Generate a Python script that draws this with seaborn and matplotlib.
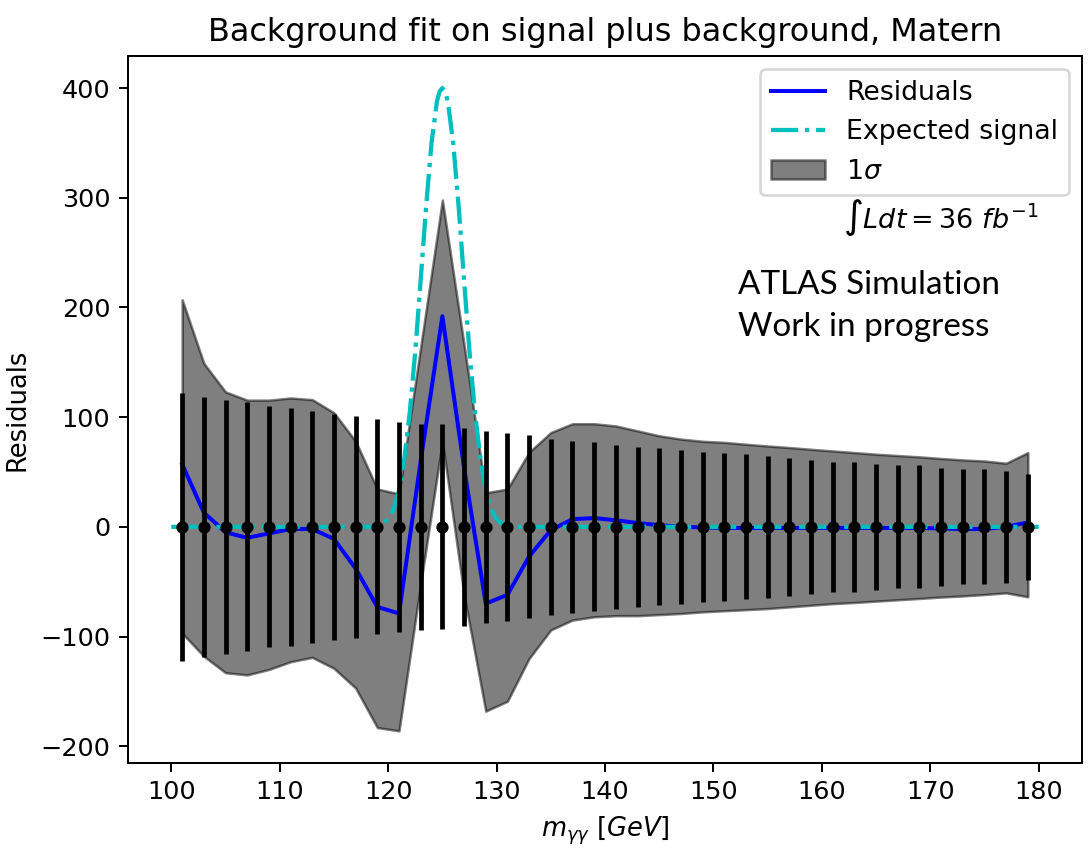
import numpy as np
import matplotlib
matplotlib.use("Agg")
import matplotlib.pyplot as plt
import seaborn as sns
from matplotlib.patches import Patch
from matplotlib.lines import Line2D

# Diphoton invariant-mass bin centres [GeV]
mass = np.arange(101, 181, 2)

# Fit residuals (data - background fit) per bin
residuals = [57, 13, -5, -10, -6, -2, -2, -11, -38, -73,
             -79, 60, 192, 54, -70, -62, -27, -3, 7, 8,
             6, 3.5, 1.5, 0, -0.5, -1, -1, -1, -1, -1,
             -1, -1, -1, -1, -1, -1.5, -2, -2, 0, 4]

# Statistical uncertainty on each bin (symmetric error bars around zero)
bin_error = [122, 118.5, 115.5, 113.5, 110, 108.5, 105.5, 103, 101.5, 98,
             96, 94, 93.5, 90.5, 87.5, 85.5, 83.5, 80, 78.5, 77,
             74.5, 73, 71.5, 70, 68.5, 67.5, 66, 64.5, 63, 61,
             59.5, 59, 57.5, 56, 56, 54, 52.5, 52.5, 51, 48.5]

# 1 sigma band of the background fit
band_upper = [207, 149, 123, 115.5, 115.5, 117.5, 116, 104, 78, 34.5,
              30, 164, 298, 166, 31, 34.5, 68, 86, 94, 94,
              92, 87.5, 83, 80, 78, 77, 75.3, 73.7, 72.3, 70.7,
              69.2, 67.7, 66.2, 65, 63.8, 62.3, 61, 60, 58, 67.7]
band_lower = [-97, -118, -133, -135, -130, -123, -119, -129, -147, -183,
              -186, -52, 78, -62, -168, -159, -120, -94, -85, -82,
              -81, -81, -80, -79, -77.5, -76.5, -75.5, -74.5, -73, -71.5,
              -70, -69, -67.7, -66.5, -65.3, -64, -63, -61.7, -60.2, -63.8]

# Expected Higgs signal shape
signal_mass = [100, 118, 118.5, 119, 119.5, 120, 120.5, 121, 121.5, 122, 122.5,
               123, 123.5, 124, 124.5, 124.75, 125, 125.25, 125.5, 126, 126.5,
               127, 127.5, 128, 128.5, 129, 129.5, 130, 130.5, 131, 131.5, 132, 180]
signal_value = [0, 0, 0.3, 1, 3, 7, 16, 33, 63, 105, 160,
                225, 292, 350, 388, 397, 400, 397, 388, 350, 292,
                225, 160, 105, 63, 33, 16, 7, 3, 1, 0.3, 0, 0]

fig, ax = plt.subplots(figsize=(1089 / 180, 857 / 180), dpi=180)
fig.subplots_adjust(left=0.1175, right=0.9936, top=0.9347, bottom=0.1097)

ax.fill_between(mass, band_lower, band_upper, color="k", alpha=0.5, zorder=1)
sns.lineplot(x=mass, y=residuals, color="blue", linewidth=1.6,
             estimator=None, ax=ax, zorder=2)
sns.lineplot(x=signal_mass, y=signal_value, color="c", linewidth=1.7,
             linestyle="-.", estimator=None, ax=ax, zorder=2.1)
ax.errorbar(mass, np.zeros(len(mass)), yerr=bin_error, fmt="ko",
            markersize=3.9, elinewidth=1.9, zorder=3)

ax.set_title("Background fit on signal plus background, Matern", fontsize=12.75)
ax.set_xlabel(r"$m_{\gamma\gamma}\ [GeV]$", fontsize=10.3)
ax.set_ylabel("Residuals", fontsize=10.3)
ax.set_xticks(np.arange(100, 181, 10))
ax.set_yticks(np.arange(-200, 401, 100))
ax.tick_params(labelsize=10.2)

handles = [
    Line2D([], [], color="blue", linewidth=1.6),
    Line2D([], [], color="c", linewidth=1.7, linestyle="-."),
    Patch(facecolor="k", edgecolor="k", alpha=0.5),
]
ax.legend(handles, ["Residuals", "Expected signal", r"$1\sigma$"],
          loc="upper right", fontsize=10.7)

ax.text(0.749, 0.771, r"$\int Ldt = 36\ fb^{-1}$", transform=ax.transAxes,
        va="center", ha="left", fontsize=10.8)
ax.text(0.639, 0.697, "ATLAS Simulation\nWork in progress",
        transform=ax.transAxes, va="top", ha="left",
        family="Lato", fontsize=13.3, linespacing=1.5)

fig.savefig("out.png", dpi=180)
